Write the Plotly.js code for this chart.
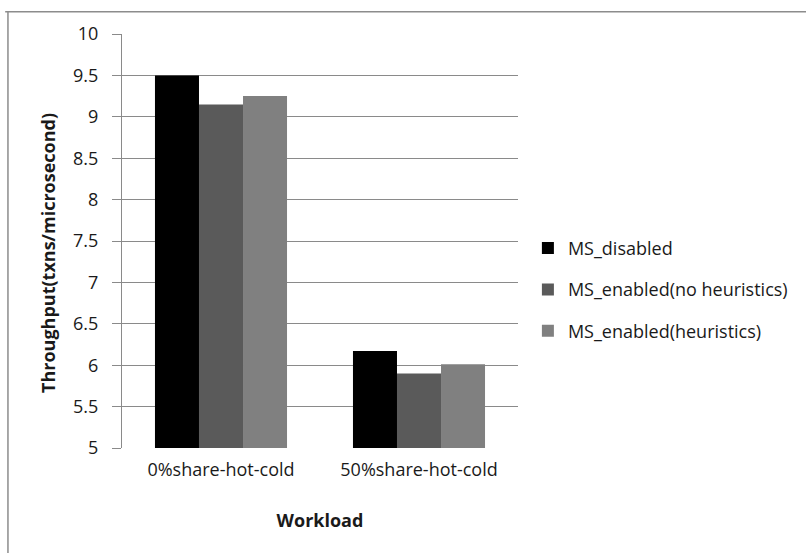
<!DOCTYPE html>
<html>
<head>
<meta charset="utf-8">
<script src="https://cdn.plot.ly/plotly-3.0.1.min.js"></script>
<style>
  html, body { margin: 0; padding: 0; background: #ffffff; }
  #chart { width: 806px; height: 553px; }
</style>
</head>
<body>
<div id="chart"></div>
<script>
// Workload categories on the x axis
const workloads = ['0%share-hot-cold', '50%share-hot-cold'];

// Throughput (txns/microsecond) per configuration
const seriesNames = ['MS_disabled', 'MS_enabled(no heuristics)', 'MS_enabled(heuristics)'];
const msDisabled = [9.5, 6.17];
const msEnabledNoHeuristics = [9.15, 5.9];
const msEnabledHeuristics = [9.25, 6.01];

// Y axis ticks
const yTickVals = [5, 5.5, 6, 6.5, 7, 7.5, 8, 8.5, 9, 9.5, 10];
const yTickText = ['5', '5.5', '6', '6.5', '7', '7.5', '8', '8.5', '9', '9.5', '10'];

const seriesValues = [msDisabled, msEnabledNoHeuristics, msEnabledHeuristics];
const seriesColors = ['#000000', '#5a5a5a', '#808080'];

const FONT = 'Open Sans, Noto Sans, sans-serif';
const TEXT_COLOR = '#1a1a1a';
const SIZE = 18;

const traces = seriesValues.map((vals, i) => ({
  type: 'bar',
  name: seriesNames[i],
  x: workloads,
  y: vals,
  marker: { color: seriesColors[i], line: { width: 0 } },
  legendgroup: 'g' + i,
  hoverinfo: 'x+y+name'
}));

const layout = {
  width: 806,
  height: 553,
  paper_bgcolor: '#ffffff',
  plot_bgcolor: '#ffffff',
  margin: { l: 122, r: 288, t: 34, b: 105 },
  barmode: 'group',
  bargap: 0.333,
  bargroupgap: 0,
  font: { family: FONT, size: SIZE, color: TEXT_COLOR },
  xaxis: {
    type: 'category',
    showgrid: false,
    showline: false,
    ticks: '',
    tickfont: { family: FONT, size: SIZE, color: TEXT_COLOR },
    ticklabelstandoff: 9,
    zeroline: false,
    title: {
      text: '<b>Workload</b>',
      font: { family: FONT, size: SIZE, color: TEXT_COLOR },
      standoff: 34
    }
  },
  yaxis: {
    range: [5, 10],
    tickmode: 'array',
    tickvals: yTickVals,
    ticktext: yTickText,
    showgrid: true,
    gridcolor: '#8a8a8a',
    gridwidth: 1,
    showline: true,
    linecolor: '#8a8a8a',
    linewidth: 1,
    ticks: 'outside',
    ticklen: 9,
    tickcolor: '#8a8a8a',
    tickwidth: 1,
    ticklabelstandoff: 10,
    tickfont: { family: FONT, size: SIZE, color: TEXT_COLOR },
    zeroline: false
  },
  showlegend: true,
  legend: {
    x: 1.025,
    xanchor: 'left',
    y: 0.382,
    yanchor: 'middle',
    font: { family: FONT, size: SIZE, color: TEXT_COLOR },
    traceorder: 'grouped',
    tracegroupgap: 15,
    itemwidth: 30,
    bgcolor: 'rgba(0,0,0,0)'
  },
  annotations: [{
    text: '<b>Throughput(txns/microsecond)</b>',
    xref: 'paper', yref: 'paper',
    x: -0.187, y: 0.471,
    xanchor: 'center', yanchor: 'middle',
    textangle: -90,
    showarrow: false,
    font: { family: FONT, size: SIZE, color: TEXT_COLOR }
  }],
  shapes: [
    // chart frame: top and left edges
    { type: 'line', xref: 'paper', yref: 'paper', x0: -0.295, x1: 1.75, y0: 1.054, y1: 1.054,
      line: { color: '#8c8c8c', width: 1.5 } },
    { type: 'line', xref: 'paper', yref: 'paper', x0: -0.288, x1: -0.288, y0: 1.054, y1: -0.3,
      line: { color: '#8c8c8c', width: 1.5 } }
  ]
};

Plotly.newPlot('chart', traces, layout, { displayModeBar: false, staticPlot: true });
</script>
</body>
</html>
